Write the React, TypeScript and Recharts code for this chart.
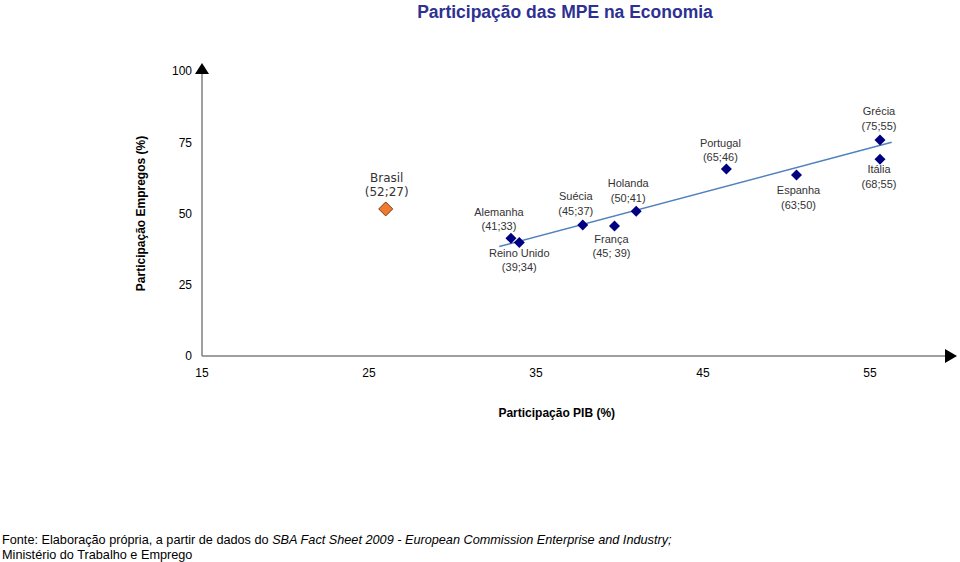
import React from "react";
import {
  ScatterChart,
  Scatter,
  XAxis,
  YAxis,
  ReferenceDot,
} from "recharts";

// Países europeus (PIB x Empregos)
const COUNTRIES = ["Alemanha", "Reino Unido", "Suécia", "França", "Holanda", "Portugal", "Espanha", "Grécia", "Itália"];
const PIB = [33.5, 34.0, 37.8, 39.7, 41.0, 46.4, 50.6, 55.6, 55.6];
const EMPREGOS = [41.3, 39.8, 46.0, 45.6, 50.8, 65.6, 63.5, 75.8, 69.0];
const ROTULOS = ["(41;33)", "(39;34)", "(45;37)", "(45; 39)", "(50;41)", "(65;46)", "(63;50)", "(75;55)", "(68;55)"];

// Brasil
const BRASIL_NAME = ["Brasil"];
const BRASIL_PIB = [26.0];
const BRASIL_EMPREGOS = [51.6];
const BRASIL_ROTULO = ["(52;27)"];

// linha de tendência (extremos)
const TREND_PIB = [32.8, 56.3];
const TREND_EMPREGOS = [38.4, 75.0];

const X_TICKS = [15, 25, 35, 45, 55];
const Y_TICKS = [0, 25, 50, 75, 100];
const X_DOMAIN = [15, 60];
const Y_DOMAIN = [0, 100];

const europa = COUNTRIES.map((name, i) => ({ name, x: PIB[i], y: EMPREGOS[i], label: ROTULOS[i] }));
const brasil = BRASIL_NAME.map((name, i) => ({ name, x: BRASIL_PIB[i], y: BRASIL_EMPREGOS[i], label: BRASIL_ROTULO[i] }));
const trend = TREND_PIB.map((x, i) => ({ x, y: TREND_EMPREGOS[i] }));

// posição dos rótulos em relação ao ponto (dx, dy da primeira linha)
const LABEL_OFFSET: Record<string, [number, number]> = {
  "Alemanha": [-12, -26.5],
  "Reino Unido": [0, 10],
  "Suécia": [-7, -28.5],
  "França": [-3, 12.5],
  "Holanda": [-8, -28],
  "Portugal": [-6, -26.5],
  "Espanha": [2, 15],
  "Grécia": [-1, -28.5],
  "Itália": [-1, 10],
  "Brasil": [1, -31],
};

const COLORS = {
  title: "#2E3192",
  point: "#000080",
  brasil: "#EE7B30",
  brasilStroke: "#7A3A10",
  trend: "#4F81BD",
  axis: "#7F7F7F",
  label: "#333333",
};

const DiamondPoint = (props: any) => {
  const { cx, cy, payload } = props;
  const r = 5.5;
  const [dx, dy] = LABEL_OFFSET[payload.name] || [0, -20];
  return (
    <g>
      <polygon
        points={`${cx},${cy - r} ${cx + r},${cy} ${cx},${cy + r} ${cx - r},${cy}`}
        fill={COLORS.point}
      />
      <text x={cx + dx} y={cy + dy} textAnchor="middle" dominantBaseline="central" fontSize={11} fill={COLORS.label}>
        {payload.name}
      </text>
      <text x={cx + dx} y={cy + dy + 14.5} textAnchor="middle" dominantBaseline="central" fontSize={11} fill={COLORS.label}>
        {payload.label}
      </text>
    </g>
  );
};

const BrasilPoint = (props: any) => {
  const { cx, cy, payload } = props;
  const r = 7;
  const [dx, dy] = LABEL_OFFSET[payload.name] || [0, -20];
  return (
    <g>
      <polygon
        points={`${cx},${cy - r} ${cx + r},${cy} ${cx},${cy + r} ${cx - r},${cy}`}
        fill={COLORS.brasil}
        stroke={COLORS.brasilStroke}
        strokeWidth={1}
      />
      <text x={cx + dx} y={cy + dy} textAnchor="middle" dominantBaseline="central" fontSize={12} fontFamily="'DejaVu Sans'" fill={COLORS.label}>
        {payload.name}
      </text>
      <text x={cx + dx} y={cy + dy + 14} textAnchor="middle" dominantBaseline="central" fontSize={12} fontFamily="'DejaVu Sans'" fill={COLORS.label}>
        {payload.label}
      </text>
    </g>
  );
};

const ArrowUp = (props: any) => {
  const { cx, cy } = props;
  return <polygon points={`${cx},${cy - 8} ${cx + 7},${cy + 3} ${cx - 7},${cy + 3}`} fill="#000" />;
};

const ArrowRight = (props: any) => {
  const { cx, cy } = props;
  return <polygon points={`${cx + 3.5},${cy} ${cx - 8.5},${cy - 7} ${cx - 8.5},${cy + 7}`} fill="#000" />;
};

export default function App() {
  return (
    <div
      style={{
        position: "absolute",
        left: 0,
        top: 0,
        width: 960,
        height: 562,
        background: "#fff",
        fontFamily: "'Liberation Sans', Arial, sans-serif",
      }}
    >
      <div
        style={{
          position: "absolute",
          top: 2,
          left: 0,
          width: 1130,
          textAlign: "center",
          fontSize: 17.5,
          lineHeight: "20px",
          fontWeight: "bold",
          color: COLORS.title,
        }}
      >
        Participação das MPE na Economia
      </div>

      <ScatterChart width={960} height={562} margin={{ top: 71, right: 6.5, bottom: 92, left: 122 }}>
        <XAxis
          dataKey="x"
          type="number"
          domain={X_DOMAIN}
          ticks={X_TICKS}
          allowDataOverflow
          height={114}
          tickLine={false}
          tickMargin={6}
          axisLine={{ stroke: COLORS.axis, strokeWidth: 1.5 }}
          tick={{ fontSize: 12, fill: "#000" }}
          label={{
            value: "Participação PIB (%)",
            position: "center",
            dx: -21,
            style: { fontSize: 12, fontWeight: "bold", fill: "#000" },
          }}
        />
        <YAxis
          dataKey="y"
          type="number"
          domain={Y_DOMAIN}
          ticks={Y_TICKS}
          allowDataOverflow
          width={80}
          tickLine={false}
          tickMargin={4}
          axisLine={{ stroke: COLORS.axis, strokeWidth: 1.5 }}
          tick={{ fontSize: 12, fill: "#000" }}
          label={{
            value: "Participação Empregos (%)",
            angle: -90,
            position: "center",
            dx: -21,
            style: { fontSize: 12, fontWeight: "bold", fill: "#000" },
          }}
        />
        <ReferenceDot x={X_DOMAIN[0]} y={Y_DOMAIN[1]} r={0} ifOverflow="visible" shape={ArrowUp} />
        <ReferenceDot x={X_DOMAIN[1]} y={Y_DOMAIN[0]} r={0} ifOverflow="visible" shape={ArrowRight} />
        <Scatter
          data={trend}
          line={{ stroke: COLORS.trend, strokeWidth: 1.5 }}
          shape={() => <g />}
          isAnimationActive={false}
        />
        <Scatter data={europa} shape={DiamondPoint} isAnimationActive={false} />
        <Scatter data={brasil} shape={BrasilPoint} isAnimationActive={false} />
      </ScatterChart>

      <div
        style={{
          position: "absolute",
          top: 533,
          left: 2,
          fontSize: 12.7,
          lineHeight: "14.5px",
          color: "#000",
          whiteSpace: "nowrap",
        }}
      >
        Fonte: Elaboração própria, a partir de dados do{" "}
        <i>SBA Fact Sheet 2009 - European Commission Enterprise and Industry;</i>
        <br />
        Ministério do Trabalho e Emprego
      </div>
    </div>
  );
}
